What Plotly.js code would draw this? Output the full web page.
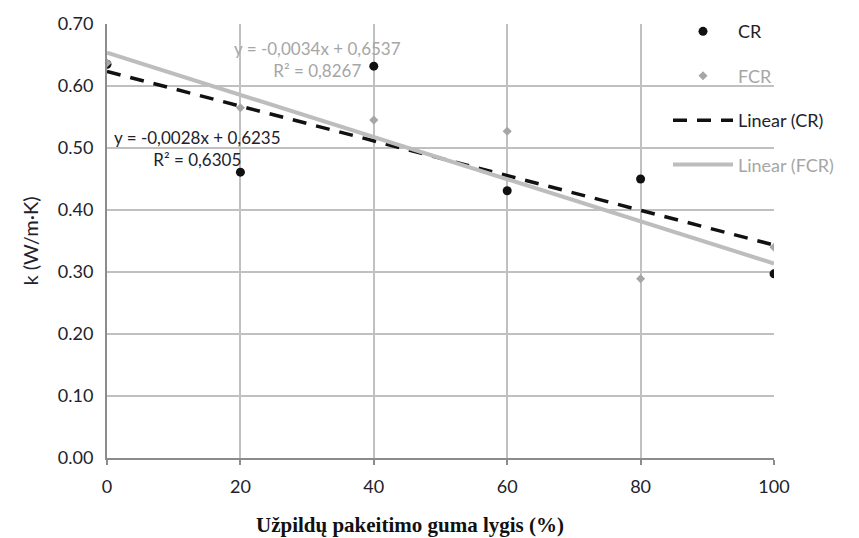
<!DOCTYPE html>
<html>
<head>
<meta charset="utf-8">
<script src="https://cdn.plot.ly/plotly-3.0.1.min.js"></script>
<style>html,body{margin:0;padding:0;background:#fff;}#chart{width:859px;height:538px;}</style>
</head>
<body>
<div id="chart"></div>
<script>
// Data
const replacement = [0, 20, 40, 60, 80, 100];
const kCR  = [0.635, 0.461, 0.632, 0.431, 0.450, 0.297];
const kFCR = [0.637, 0.565, 0.545, 0.527, 0.289, 0.340];
// Trendline coefficients as printed on the chart
const slopeCR = -0.0028, interceptCR = 0.6235, r2CR = "0,6305";
const slopeFCR = -0.0034, interceptFCR = 0.6537, r2FCR = "0,8267";
const xTicks = [0, 20, 40, 60, 80, 100];
const yTicks = [0, 0.1, 0.2, 0.3, 0.4, 0.5, 0.6, 0.7];

const trendX = [replacement[0], replacement[replacement.length - 1]];
const trendCR = trendX.map(x => slopeCR * x + interceptCR);
const trendFCR = trendX.map(x => slopeFCR * x + interceptFCR);

const font = "Lato, 'Open Sans', sans-serif";
const dark = "#22222c";
const gray = "#a6a6a6";
const g = t => '<span style="color:' + gray + '">' + t + '</span>';

const traces = [
  {x: replacement, y: kCR, mode: 'markers', type: 'scatter', name: 'CR', legendgroup: 'a',
   marker: {color: '#111', size: 9, symbol: 'circle'}},
  {x: replacement, y: kFCR, mode: 'markers', type: 'scatter', name: g('FCR'), legendgroup: 'b',
   marker: {color: gray, size: 7, symbol: 'diamond'}},
  {x: trendX, y: trendCR, mode: 'lines', type: 'scatter', name: 'Linear (CR)', legendgroup: 'c',
   line: {color: '#111', width: 3.5, dash: '14px,10px'}},
  {x: trendX, y: trendFCR, mode: 'lines', type: 'scatter', name: g('Linear (FCR)'), legendgroup: 'd',
   line: {color: '#bdbdbd', width: 4}}
];

const layout = {
  width: 859, height: 538,
  margin: {l: 107, r: 85, t: 24, b: 80},
  paper_bgcolor: '#fff', plot_bgcolor: '#fff',
  font: {family: font, color: dark, size: 18},
  showlegend: true,
  legend: {x: 1 - (774-668)/667, xanchor: 'left', y: 1.025, yanchor: 'top',
           bgcolor: 'rgba(0,0,0,0)', font: {size: 18, family: font, color: dark},
           tracegroupgap: 18, itemwidth: 60},
  xaxis: {range: [0, 100], tickvals: xTicks, ticktext: xTicks.map(String),
          showgrid: true, gridcolor: '#c0c0c0', gridwidth: 2,
          showline: true, linecolor: '#8c8c8c', linewidth: 2,
          ticks: 'outside', ticklen: 5, tickcolor: '#8c8c8c', tickwidth: 2,
          ticklabelstandoff: 6,
          zeroline: false, tickfont: {size: 18, color: dark}},
  yaxis: {range: [0, 0.70], tickvals: yTicks, ticktext: yTicks.map(v => v.toFixed(2)),
          showgrid: true, gridcolor: '#c0c0c0', gridwidth: 2,
          showline: true, linecolor: '#8c8c8c', linewidth: 2,
          ticks: '', zeroline: false, tickfont: {size: 18, color: dark},
          ticklabelstandoff: 8,
          title: {text: 'k (W/m·K)', font: {size: 20, color: dark}, standoff: 14}},
  annotations: [
    {xref: 'x', yref: 'y', x: 31.6, y: 0.643, showarrow: false, align: 'center',
     text: 'y = -0,0034x + 0,6537<br>R² = ' + r2FCR, font: {size: 17, color: gray, family: font}},
    {xref: 'x', yref: 'y', x: 13.6, y: 0.50, showarrow: false, align: 'center',
     text: 'y = -0,0028x + 0,6235<br>R² = ' + r2CR, font: {size: 17, color: dark, family: font}},
    {xref: 'paper', yref: 'paper', x: (410-107)/667, y: -(525-458)/434, yanchor: 'middle', showarrow: false,
     text: '<b>Užpildų pakeitimo guma lygis (%)</b>',
     font: {family: "'Liberation Serif', 'DejaVu Serif', serif", size: 21, color: '#111'}}
  ]
};

Plotly.newPlot('chart', traces, layout, {displayModeBar: false, staticPlot: true});
</script>
</body>
</html>
